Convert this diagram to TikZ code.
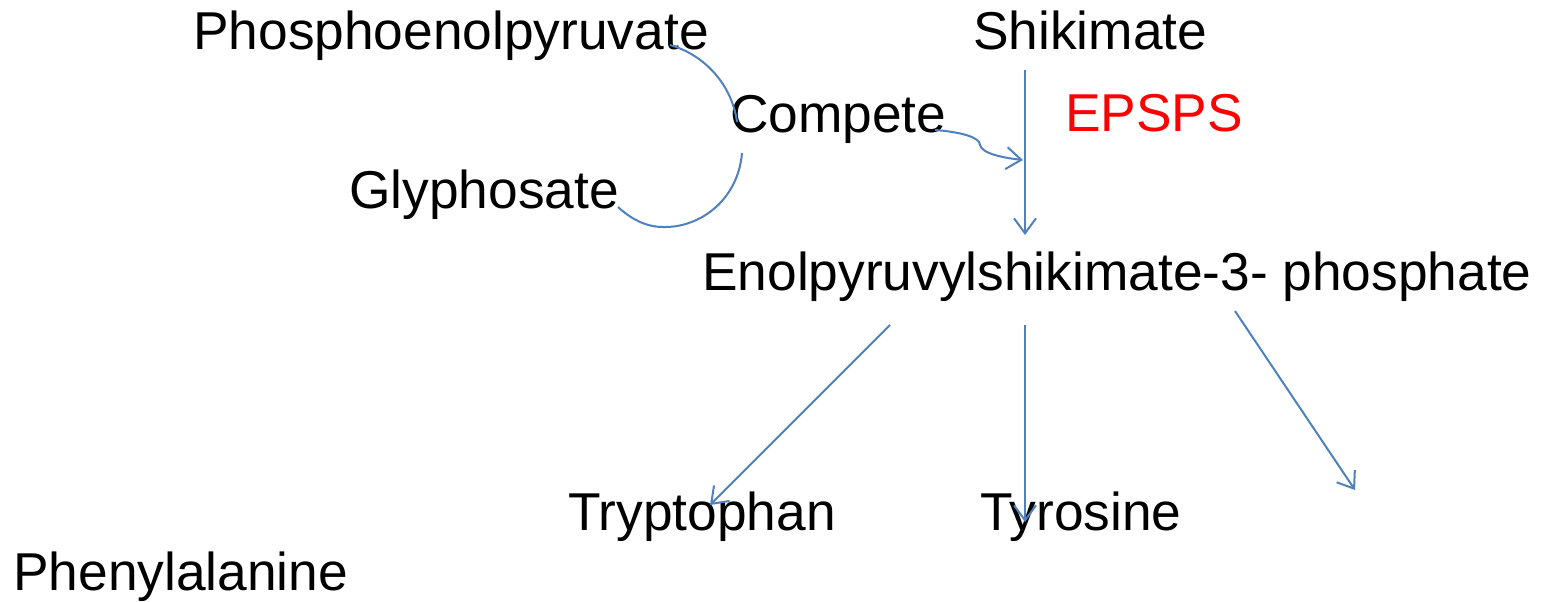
\documentclass[tikz,border=0pt]{standalone}
\usepackage{fontspec}
\setmainfont{Liberation Sans}
\usetikzlibrary{arrows.meta}
\definecolor{lineblue}{HTML}{4F81BD}
\definecolor{epred}{HTML}{FF0000}
\begin{document}
\begin{tikzpicture}[x=1pt,y=-1pt,
  lbl/.style={anchor=base west,inner sep=0pt,font=\fontsize{53.3}{60}\selectfont},
  conn/.style={draw=lineblue,line width=2pt},
  arr/.style={conn,-{Straight Barb[length=15pt,width=22pt,line width=2pt]}}]
\useasboundingbox (0,0) rectangle (1547,602);
\fill[white] (0,0) rectangle (1547,602);
\node[lbl] (pep) at (193,50) {Phosphoenolpyruvate};
\node[lbl] (shik) at (973,50) {Shikimate};
\node[lbl] (comp) at (730,132) {Compete};
\node[lbl,text=epred] (epsps) at (1065,131) {EPSPS};
\node[lbl] (gly) at (349,208) {Glyphosate};
\node[lbl] (esp) at (702,290) {Enolpyruvylshikimate-3- phosphate};
\node[lbl] (trp) at (568,530) {Tryptophan};
\node[lbl] (tyr) at (980,530) {Tyrosine};
\node[lbl] (phe) at (13,590) {Phenylalanine};
% connector end points
\coordinate (pepE) at (670,45);
\coordinate (compTop) at (737,122);
\coordinate (compBot) at (742,153);
\coordinate (glyE) at (618,207);
\coordinate (compR) at (935,130);
\coordinate (shikS) at (1025,70);
\coordinate (shikM) at (1023,160);
\coordinate (espN) at (1025,235);
\coordinate (espA) at (890,325);
\coordinate (espB) at (1025,325);
\coordinate (espC) at (1235,311);
\coordinate (trpN) at (710,505);
\coordinate (tyrN) at (1025,522);
\coordinate (pheN) at (1355,490);
% curves
\draw[conn] (pepE) .. controls (705,55) and (732,85) .. (compTop);
\draw[conn] (compBot) .. controls (738,200) and (700,228) .. (663,227)
  .. controls (645,227) and (630,218) .. (glyE);
\draw[arr] (compR) .. controls (960,132) and (980,137) .. (980,145)
  .. controls (982,154) and (1005,158) .. (shikM);
% arrows
\draw[arr] (shikS) -- (espN);
\draw[arr] (espA) -- (trpN);
\draw[arr] (espB) -- (tyrN);
\draw[arr] (espC) -- (pheN);
\end{tikzpicture}
\end{document}
